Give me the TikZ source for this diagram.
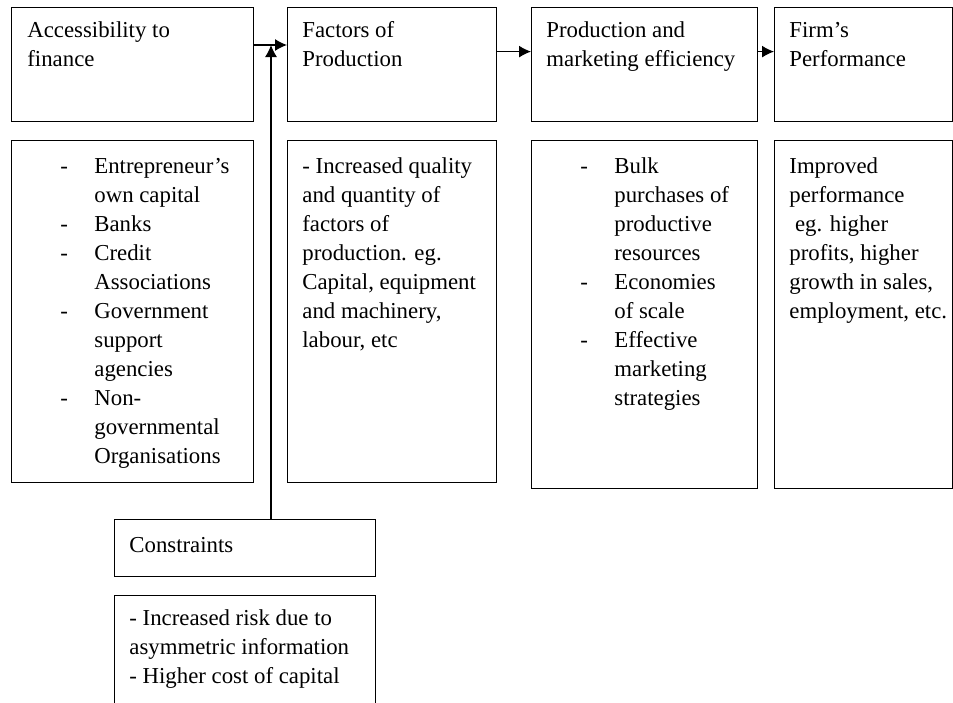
\documentclass[tikz,border=0pt]{standalone}
\usepackage{fontspec}
\setmainfont{Liberation Serif}
\usetikzlibrary{arrows.meta}

\newcommand{\dashitem}{\makebox[17pt][l]{-}}
\newcommand{\dashgap}{\hspace*{17pt}}

\begin{document}
\begin{tikzpicture}[x=0.5pt,y=-0.5pt]
        \tikzset{box/.style = {shape=rectangle,draw,line width=0.6pt,anchor=north west,inner sep=0pt}};
        \tikzset{txt/.style = {anchor=north west,inner sep=0pt,align=left,font=\fontsize{11.4}{14.5}\selectfont}};
        \tikzset{edge/.style = {-{Latex[length=6pt,width=6pt]},line width=0.6pt}};
        \useasboundingbox (0,0) rectangle (953,702);
        \clip (0,0) rectangle (953,702);
        % top row
        \node[box,minimum width=121pt,minimum height=57pt] (acc) at (11,7) {};
        \node[box,minimum width=104.5pt,minimum height=57pt] (fac) at (287,7) {};
        \node[box,minimum width=113pt,minimum height=57pt] (eff) at (531,7) {};
        \node[box,minimum width=89pt,minimum height=57pt] (firm) at (774,7) {};
        % lists
        \node[box,minimum width=121pt,minimum height=171pt] (accL) at (11,140) {};
        \node[box,minimum width=104.5pt,minimum height=171pt] (facL) at (287,140) {};
        \node[box,minimum width=113pt,minimum height=174pt] (effL) at (531,140) {};
        \node[box,minimum width=89pt,minimum height=174pt] (firmL) at (774,140) {};
        % constraints
        \node[box,minimum width=130.5pt,minimum height=28.5pt] (con) at (114,519) {};
        \node[box,minimum width=130.5pt,minimum height=70pt] (conL) at (114,595) {};
        \node[txt] (accT) at ([shift={(16,9.7)}]acc.north west) {\strut Accessibility to\\finance};
        \node[txt] (facT) at ([shift={(15,9.7)}]fac.north west) {\strut Factors of\\Production};
        \node[txt] (effT) at ([shift={(15,9.7)}]eff.north west) {\strut Production and\\marketing efficiency};
        \node[txt] (firmT) at ([shift={(15,9.7)}]firm.north west) {\strut Firm's\\Performance};
        \node[txt] (accLT) at ([shift={(49,12.7)}]accL.north west) {\strut\dashitem Entrepreneur's\\\dashgap own capital\\\dashitem Banks\\\dashitem Credit\\\dashgap Associations\\\dashitem Government\\\dashgap support\\\dashgap agencies\\\dashitem Non-\\\dashgap governmental\\\dashgap Organisations};
        \node[txt] (facLT) at ([shift={(15,12.7)}]facL.north west) {\strut - Increased quality\\and quantity of\\factors of\\production. eg.\\Capital, equipment\\and machinery,\\labour, etc};
        \node[txt] (effLT) at ([shift={(49,12.7)}]effL.north west) {\strut\dashitem Bulk\\\dashgap purchases of\\\dashgap productive\\\dashgap resources\\\dashitem Economies\\\dashgap of scale\\\dashitem Effective\\\dashgap marketing\\\dashgap strategies};
        \node[txt] (firmLT) at ([shift={(15,12.7)}]firmL.north west) {\strut Improved\\performance\\\ eg. higher\\profits, higher\\growth in sales,\\employment, etc.};
        \node[txt] (conT) at ([shift={(15,12.7)}]con.north west) {\strut Constraints};
        \node[txt] (conLT) at ([shift={(15,9.7)}]conL.north west) {\strut - Increased risk due to\\asymmetric information\\- Higher cost of capital};
        \coordinate (j) at (271,45);
        \draw[edge] (acc.east |- j) -- (fac.west |- j);
        \draw[edge] (con.north -| j) -- (j);
        \draw[edge] ([yshift=6.5pt]fac.east) -- ([yshift=6.5pt]eff.west);
        \draw[edge] ([yshift=6.5pt]eff.east) -- ([yshift=6.5pt]firm.west);
\end{tikzpicture}
\end{document}
